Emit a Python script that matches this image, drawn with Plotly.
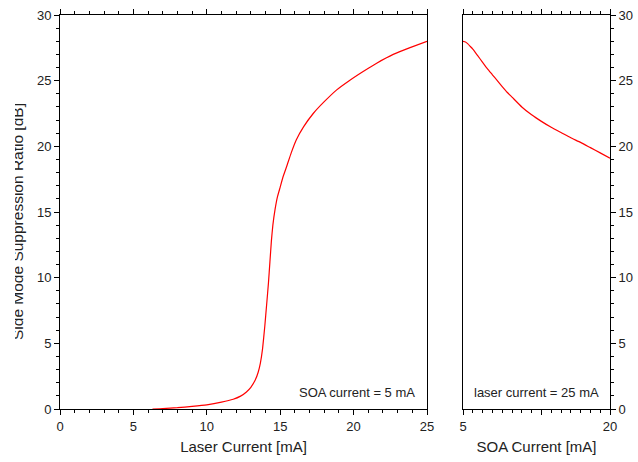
import plotly.graph_objects as go

# Left panel: SMSR vs laser current (SOA current = 5 mA)
laser_current = [6.3, 7.0, 8.0, 9.0, 10.0, 11.0, 11.8, 12.3, 12.7, 13.0, 13.3, 13.5, 13.65, 13.8, 13.95,
                 14.08, 14.2, 14.3, 14.4, 14.5, 14.65, 14.8, 15.0, 15.2, 15.45, 15.75, 16.1, 16.6,
                 17.25, 18.0, 18.85, 19.7, 20.65, 21.6, 22.7, 23.8, 25.0]
smsr_laser = [0.0, 0.03, 0.1, 0.2, 0.32, 0.52, 0.74, 0.98, 1.3, 1.65, 2.2, 2.8, 3.5, 4.6, 6.3,
              8.0, 9.6, 11.2, 12.8, 14.0, 15.2, 16.1, 16.9, 17.7, 18.5, 19.5, 20.5, 21.5,
              22.5, 23.4, 24.3, 25.0, 25.7, 26.35, 27.0, 27.5, 28.0]

# Right panel: SMSR vs SOA current (laser current = 25 mA)
soa_current = [5.0, 5.25, 5.5, 5.75, 6.0, 6.5, 7.0, 7.5, 8.0, 8.5, 9.0, 9.5, 10.0, 11.0, 12.0,
               13.0, 14.0, 15.0, 16.0, 17.0, 18.0, 19.0, 20.0]
smsr_soa = [28.0, 27.95, 27.8, 27.6, 27.4, 26.9, 26.4, 25.9, 25.45, 25.0, 24.55, 24.12, 23.75,
            23.0, 22.4, 21.9, 21.45, 21.05, 20.65, 20.3, 19.9, 19.5, 19.1]

FONT = "Arial, Liberation Sans, sans-serif"
W, H = 638, 462
ML, MT = 60, 15
PW, PH = 550, 394
MR, MB = W - ML - PW, H - MT - PH


def px_x(page_x):
    return (page_x - ML) / PW


def px_y(page_y):
    return (MT + PH - page_y) / PH


fig = go.Figure()
fig.add_trace(go.Scatter(x=laser_current, y=smsr_laser, mode="lines",
                         line=dict(color="#ff0000", width=1.2, shape="spline", smoothing=0.4),
                         xaxis="x", yaxis="y", showlegend=False, hoverinfo="skip"))
fig.add_trace(go.Scatter(x=soa_current, y=smsr_soa, mode="lines",
                         line=dict(color="#ff0000", width=1.2, shape="spline", smoothing=0.4),
                         xaxis="x2", yaxis="y2", showlegend=False, hoverinfo="skip"))

axcommon = dict(showgrid=False, zeroline=False, showline=True, linecolor="black", linewidth=1,
                ticks="outside", ticklen=5, tickcolor="black", tickwidth=1, automargin=False,
                ticklabeloverflow="allow",
                tickfont=dict(family=FONT, size=13, color="#222"))
minor = dict(dtick=1, ticks="outside", ticklen=3, tickcolor="black")

fig.update_layout(
    width=W, height=H, margin=dict(l=ML, r=MR, t=MT, b=MB, autoexpand=False),
    paper_bgcolor="white", plot_bgcolor="white",
    xaxis=dict(domain=[0, px_x(427)], range=[0, 25], tickvals=[0, 5, 10, 15, 20, 25],
               mirror="ticks", minor=dict(tick0=0, **minor),
               title=dict(text="Laser Current [mA]", font=dict(family=FONT, size=15, color="#222"), standoff=8),
               anchor="y", **axcommon),
    yaxis=dict(domain=[0, 1], range=[0, 30], tickvals=[0, 5, 10, 15, 20, 25, 30],
               mirror=True, minor=dict(tick0=0, **minor),
               anchor="x", **axcommon),
    xaxis2=dict(domain=[px_x(463), 1], range=[5, 20], tickvals=[5, 13, 20], ticktext=["5", "", "20"],
                mirror="ticks", minor=dict(tick0=5, **minor),
                title=dict(text="SOA Current [mA]", font=dict(family=FONT, size=15, color="#222"), standoff=8),
                anchor="y2", **axcommon),
    yaxis2=dict(domain=[0, 1], range=[0, 30], tickvals=[0, 5, 10, 15, 20, 25, 30], side="right",
                mirror=True, minor=dict(tick0=0, **minor),
                anchor="x2", **axcommon),
)

annotations = [
    dict(text="SOA current = 5 mA", xref="paper", yref="paper",
         x=px_x(417), y=px_y(392), xanchor="right", yanchor="middle",
         showarrow=False, font=dict(family=FONT, size=13, color="#222")),
    dict(text="laser current = 25 mA", xref="paper", yref="paper",
         x=px_x(601), y=px_y(392), xanchor="right", yanchor="middle",
         showarrow=False, font=dict(family=FONT, size=13, color="#222")),
    dict(text="Side Mode Suppression Ratio [dB]", xref="paper", yref="paper",
         x=px_x(17), y=px_y(222), xanchor="center", yanchor="middle",
         textangle=-90, showarrow=False, font=dict(family=FONT, size=15.5, color="#222")),
    # white strip emulating the cropped left edge of the original figure
    dict(text="&#160;", xref="paper", yref="paper", x=px_x(0), y=0.5, xanchor="left", yanchor="middle",
         width=14.5, height=440, bgcolor="#ffffff", bordercolor="#ffffff", showarrow=False,
         borderpad=0, borderwidth=0, font=dict(size=10, color="#ffffff")),
]
fig.update_layout(annotations=annotations)

fig.write_html("out.html", config={"displayModeBar": False},
               post_script="document.body.style.margin='0px';")
